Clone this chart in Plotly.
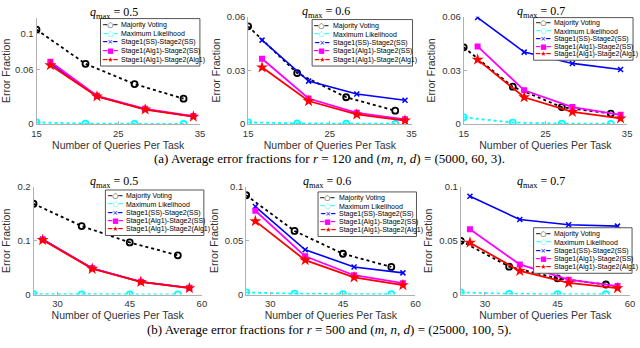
import plotly.graph_objects as go

# ---- data ----
q_max = ["0.5", "0.6", "0.7"]

x_top_mv = [15, 21, 27, 33]
x_top_stage = [16.7, 22.4, 28.3, 34.2]
x_bot_mv = [25, 35, 45, 55]
x_bot_stage = [26.9, 37.2, 47.3, 57.4]

mv_top = [[0.1047, 0.0668, 0.0444, 0.0282], [0.0546, 0.0285, 0.0150, 0.0075], [0.0429, 0.0209, 0.0095, 0.0059]]
ml_top = [[0.0020, 0.0006, 0.0004, 0.0003], [0.0010, 0.0004, 0.0003, 0.0002], [0.0038, 0.0009, 0.0003, 0.0002]]
ss_top = [[0.0675, 0.0310, 0.0165, 0.0085], [0.0469, 0.0240, 0.0168, 0.0133], [0.0595, 0.0402, 0.0339, 0.0305]]
alg_ss_top = [[0.0690, 0.0314, 0.0170, 0.0090], [0.0365, 0.0143, 0.0063, 0.0027], [0.0434, 0.0189, 0.0095, 0.0052]]
alg_alg_top = [[0.0653, 0.0307, 0.0162, 0.0083], [0.0317, 0.0129, 0.0054, 0.0020], [0.0360, 0.0150, 0.0068, 0.0032]]

mv_bot = [[0.169, 0.1275, 0.097, 0.0731], [0.0924, 0.0592, 0.0380, 0.0257], [0.0500, 0.0260, 0.0151, 0.0094]]
ml_bot = [[0.0010, 0.0005, 0.0004, 0.0003], [0.0020, 0.0008, 0.0004, 0.0003], [0.0020, 0.0007, 0.0004, 0.0003]]
ss_bot = [[0.1030, 0.0490, 0.0240, 0.0127], [0.0819, 0.0417, 0.0257, 0.0202], [0.0915, 0.0698, 0.0650, 0.0637]]
alg_ss_bot = [[0.1025, 0.0488, 0.0238, 0.0125], [0.0780, 0.0356, 0.0180, 0.0106], [0.0607, 0.0280, 0.0139, 0.0079]]
alg_alg_bot = [[0.1015, 0.0480, 0.0236, 0.0120], [0.0683, 0.0320, 0.0160, 0.0088], [0.0483, 0.0220, 0.0109, 0.0060]]

y_ranges = [[0, 0.118], [0, 0.06], [0, 0.06], [0, 0.2], [0, 0.1], [0, 0.1]]
y_ticks = [[0, 0.06, 0.1], [0, 0.03, 0.06], [0, 0.03, 0.06], [0, 0.1, 0.2], [0, 0.05, 0.1], [0, 0.05, 0.1]]
x_ticks_top = [15, 25, 35]
x_ticks_bot = [30, 45, 60]

names = ["Majority Voting", "Maximum Likelihood", "Stage1(SS)-Stage2(SS)",
         "Stage1(Alg1)-Stage2(SS)", "Stage1(Alg1)-Stage2(Alg1)"]

W, H = 640, 348

# panel boxes in pixels: left, right, top, bottom
boxes = [(32, 198, 12, 122), (247, 413, 11, 122), (466, 632, 11, 122),
         (29, 200, 187, 298), (245, 417, 187, 298), (463, 635, 187, 298)]
# legend boxes in pixels: left, top, right, bottom
legend_boxes = [(97, 13, 198, 62), (312, 14, 414, 62), (537, 12, 638, 56),
                (102, 190, 202, 237), (318, 192, 418, 238), (537, 229, 637, 276)]


def fx(p):
    return p / W


def fy(p):
    return 1 - p / H


fig = go.Figure()
layout = {}
annotations = []
shapes = []

samples = [("#000000", "┅<b>○</b>┅"), ("#00ffff", "┅<b>○</b>┅"), ("#0000ff", "━×━"),
           ("#ff00ff", "━■━"), ("#ff0000", "━★━")]

for i in range(6):
    n = i + 1
    xa = "x" if n == 1 else f"x{n}"
    ya = "y" if n == 1 else f"y{n}"
    k = i % 3
    if i < 3:
        xm, xs = x_top_mv, x_top_stage
        mv, ml, ss, a_ss, a_a = mv_top[k], ml_top[k], ss_top[k], alg_ss_top[k], alg_alg_top[k]
        xr, xt = [15, 35], x_ticks_top
    else:
        xm, xs = x_bot_mv, x_bot_stage
        mv, ml, ss, a_ss, a_a = mv_bot[k], ml_bot[k], ss_bot[k], alg_ss_bot[k], alg_alg_bot[k]
        xr, xt = [25, 60], x_ticks_bot

    fig.add_trace(go.Scatter(x=xm, y=mv, xaxis=xa, yaxis=ya, mode="lines+markers", name=names[0],
                             line=dict(color="black", dash="dot", width=1.8),
                             marker=dict(symbol="circle-open", size=6, color="black", line=dict(width=1.8))))
    fig.add_trace(go.Scatter(x=xm, y=ml, xaxis=xa, yaxis=ya, mode="lines+markers", name=names[1],
                             line=dict(color="#00ffff", dash="dot", width=1.8),
                             marker=dict(symbol="circle-open", size=6, color="#00ffff", line=dict(width=1.8))))
    fig.add_trace(go.Scatter(x=xs, y=ss, xaxis=xa, yaxis=ya, mode="lines+markers", name=names[2],
                             line=dict(color="#0000ff", width=1.6),
                             marker=dict(symbol="x-thin", size=5, color="#0000ff", line=dict(width=1.5, color="#0000ff"))))
    fig.add_trace(go.Scatter(x=xs, y=a_ss, xaxis=xa, yaxis=ya, mode="lines+markers", name=names[3],
                             line=dict(color="#ff00ff", width=1.8),
                             marker=dict(symbol="square", size=6, color="#ff00ff")))
    fig.add_trace(go.Scatter(x=xs, y=a_a, xaxis=xa, yaxis=ya, mode="lines+markers", name=names[4],
                             line=dict(color="#ff0000", width=1.8),
                             marker=dict(symbol="star", size=9, color="#ff0000")))

    l, r, t, b = boxes[i]
    axis_common = dict(showline=True, linecolor="#b0b0b0", linewidth=1, ticks="inside", ticklen=3,
                       tickcolor="#b0b0b0", showgrid=False, zeroline=False,
                       tickfont=dict(family="Liberation Sans", size=9.5, color="#333333"))
    layout[f"xaxis{n}"] = dict(axis_common, domain=[fx(l), fx(r)], anchor=ya, range=xr, tickvals=xt,
                               title=dict(text="Number of Queries Per Task", standoff=2,
                                          font=dict(family="Liberation Sans", size=10.5, color="#333333")))
    layout[f"yaxis{n}"] = dict(axis_common, domain=[fy(b), fy(t)], anchor=xa, range=y_ranges[i],
                               tickvals=y_ticks[i], ticktext=[f"{v:g}" for v in y_ticks[i]],
                               title=dict(text="Error Fraction", standoff=4,
                                          font=dict(family="Liberation Sans", size=10.5, color="#333333")))

    # panel title
    annotations.append(dict(text=f"<i>q</i><sub>max</sub> = {q_max[k]}", xref="paper", yref="paper",
                            x=fx((l + r) / 2 - 4), y=fy(t - 5), xanchor="center", yanchor="middle",
                            showarrow=False, font=dict(family="Liberation Serif", size=12, color="black")))

    # compact legend: a framed box, one text line per entry
    ll, lt, lr, lb = legend_boxes[i]
    shapes.append(dict(type="rect", xref="paper", yref="paper", x0=fx(ll), x1=fx(lr), y0=fy(lb), y1=fy(lt),
                       line=dict(color="#555555", width=1), fillcolor="white", layer="above"))
    step = (lb - lt - 4) / 5
    for j, ((c, s), nm) in enumerate(zip(samples, names)):
        yc = fy(lt + 2 + step * (j + 0.5))
        annotations.append(dict(text=s, xref="paper", yref="paper", x=fx(ll + 10), y=yc,
                                xanchor="center", yanchor="middle", showarrow=False,
                                font=dict(family="DejaVu Sans", size=7, color=c)))
        annotations.append(dict(text=nm, xref="paper", yref="paper", x=fx(ll + 19), y=yc,
                                xanchor="left", yanchor="middle", showarrow=False,
                                font=dict(family="Liberation Sans", size=7, color="black")))

annotations.append(dict(text="(a) Average error fractions for <i>r</i> = 120 and (<i>m</i>, <i>n</i>, <i>d</i>) = (5000, 60, 3).",
                        xref="paper", yref="paper", x=fx(330), y=fy(157), xanchor="center", yanchor="middle",
                        showarrow=False, font=dict(family="Liberation Serif", size=13, color="black")))
annotations.append(dict(text="(b) Average error fractions for <i>r</i> = 500 and (<i>m</i>, <i>n</i>, <i>d</i>) = (25000, 100, 5).",
                        xref="paper", yref="paper", x=fx(330), y=fy(334), xanchor="center", yanchor="middle",
                        showarrow=False, font=dict(family="Liberation Serif", size=13, color="black")))

fig.update_layout(**layout)
fig.update_layout(width=W, height=H, margin=dict(l=0, r=0, t=0, b=0), showlegend=False,
                  plot_bgcolor="white", paper_bgcolor="white", annotations=annotations, shapes=shapes)

fig.write_html("out.html", config={"displayModeBar": False},
               post_script="document.body.style.margin='0';document.body.style.overflow='hidden';")
